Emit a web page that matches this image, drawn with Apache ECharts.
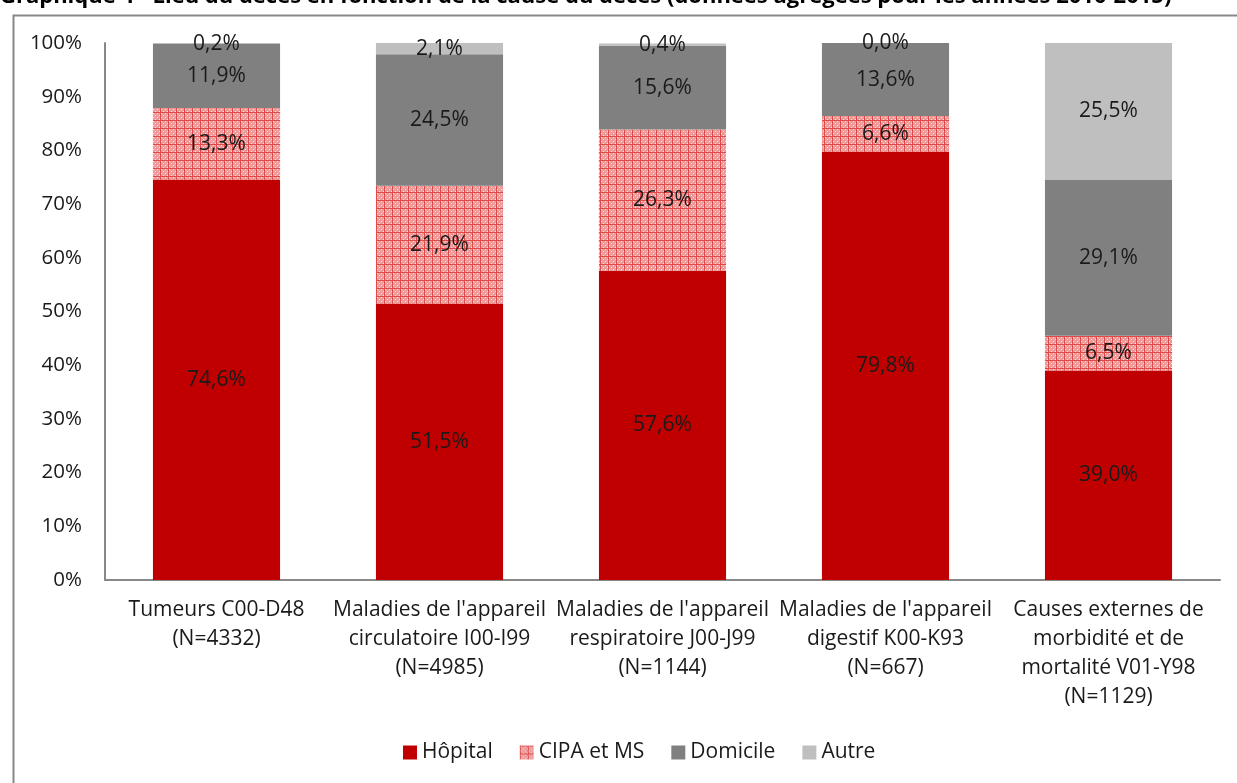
<!DOCTYPE html>
<html>
<head>
<meta charset="utf-8">
<script src="https://cdn.jsdelivr.net/npm/echarts@6/dist/echarts.min.js"></script>
<style>
  html, body { margin: 0; padding: 0; background: #fff; }
  #chart { width: 1237px; height: 783px; }
</style>
</head>
<body>
<div id="chart"></div>
<script>
const categories = [
  "Tumeurs C00-D48\n(N=4332)",
  "Maladies de l'appareil\ncirculatoire I00-I99\n(N=4985)",
  "Maladies de l'appareil\nrespiratoire J00-J99\n(N=1144)",
  "Maladies de l'appareil\ndigestif K00-K93\n(N=667)",
  "Causes externes de\nmorbidité et de\nmortalité V01-Y98\n(N=1129)"
]
const hopital = [74.6, 51.5, 57.6, 79.8, 39.0]
const cipa = [13.3, 21.9, 26.3, 6.6, 6.5]
const domicile = [11.9, 24.5, 15.6, 13.6, 29.1]
const autre = [0.2, 2.1, 0.4, 0.0, 25.5]
const yTicks = [0, 10, 20, 30, 40, 50, 60, 70, 80, 90, 100]

// motif quadrillé rouge pour CIPA et MS
function makePattern () {
  const c = document.createElement('canvas')
  c.width = 8
  c.height = 8
  const ctx = c.getContext('2d')
  ctx.fillStyle = '#ec9a9a'
  ctx.fillRect(0, 0, 8, 8)
  ctx.fillStyle = '#fbe6e6'
  for (let x = 1; x < 8; x += 2) {
    for (let y = 1; y < 8; y += 2) {
      if ((x + y) % 4 === 2) ctx.fillRect(x, y, 1, 1)
    }
  }
  ctx.fillStyle = '#e04848'
  ctx.fillRect(0, 0, 8, 1)
  ctx.fillRect(0, 0, 1, 8)
  return c
}
const cipaColor = { image: makePattern(), repeat: 'repeat' }

const font = '"Open Sans", "Noto Sans", sans-serif'
const txt = '#1a1a1a'
const fmt = v => v.toFixed(1).replace('.', ',') + '%'

function bar (name, data, color) {
  return {
    name: name,
    type: 'bar',
    stack: 'total',
    barWidth: '57%',
    data: data,
    itemStyle: { color: color },
    label: {
      show: true,
      position: 'inside',
      color: txt,
      fontFamily: font,
      fontSize: 21,
      formatter: p => fmt(p.value)
    }
  }
}

const chart = echarts.init(document.getElementById('chart'))
chart.setOption({
  animation: false,
  backgroundColor: '#fff',
  textStyle: { fontFamily: font },
  graphic: [
    {
      type: 'rect',
      left: 11,
      top: 13,
      shape: { width: 1300, height: 900 },
      style: { fill: 'none', stroke: '#888', lineWidth: 2 },
      z: -1
    },
    {
      type: 'text',
      x: 0,
      y: -14,
      style: {
        text: 'Graphique 4 - Lieu du décès en fonction de la cause du décès (données agrégées pour les années 2010-2015)',
        font: 'bold 22px "Open Sans", sans-serif',
        fill: '#000'
      }
    }
  ],
  legend: {
    bottom: 15,
    left: 398,
    itemWidth: 14,
    itemHeight: 14,
    itemGap: 27,
    icon: 'rect',
    textStyle: { fontSize: 21, color: txt, fontFamily: font }
  },
  grid: { left: 105, right: 17, top: 43, bottom: 203, containLabel: false },
  xAxis: {
    type: 'category',
    data: categories,
    axisLine: { lineStyle: { color: '#888', width: 2 } },
    axisTick: { show: false },
    axisLabel: {
      interval: 0,
      margin: 16,
      fontSize: 21,
      lineHeight: 29,
      color: txt,
      fontFamily: font
    }
  },
  yAxis: {
    type: 'value',
    min: 0,
    max: 100,
    interval: 10,
    axisLine: { show: true, lineStyle: { color: '#888', width: 2 } },
    axisTick: { show: false },
    splitLine: { show: false },
    axisLabel: {
      margin: 23,
      fontSize: 20.5,
      color: txt,
      fontFamily: font,
      formatter: v => (yTicks.includes(v) ? v + '%' : '')
    }
  },
  series: [
    bar('Hôpital', hopital, '#c00000'),
    bar('CIPA et MS', cipa, cipaColor),
    bar('Domicile', domicile, '#808080'),
    bar('Autre', autre, '#bfbfbf')
  ]
})
</script>
</body>
</html>
